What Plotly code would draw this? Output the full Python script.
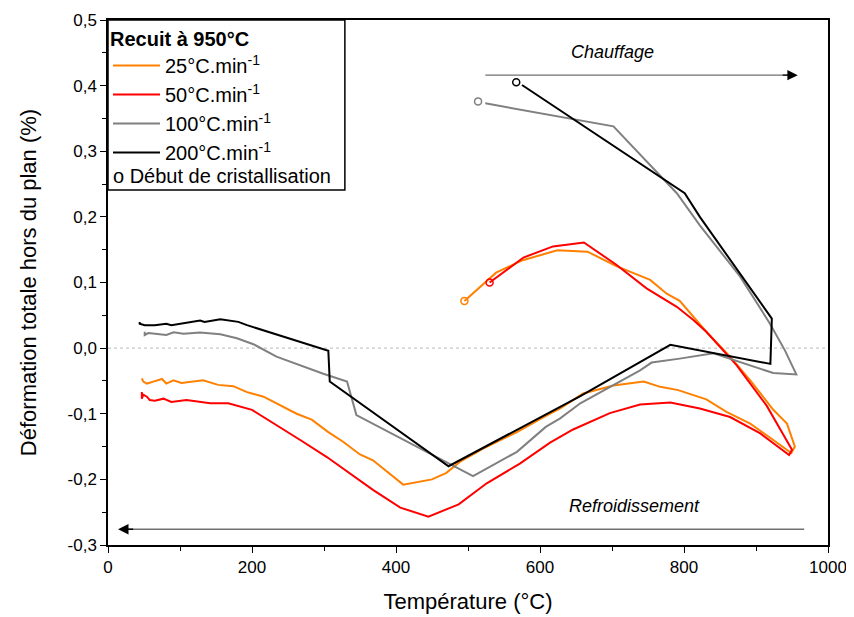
import plotly.graph_objects as go

# ---------------- data ----------------
T_25 = [495, 539, 576, 624, 666, 706, 753, 776, 794, 831, 864, 892, 924, 943, 954,
        949, 924, 892, 859, 831, 792, 767, 744, 702, 660, 628, 605, 568, 521, 489,
        470, 450, 410, 368, 350, 327, 306, 283, 262, 239, 216, 193, 174, 153, 132,
        102, 91, 81, 75, 63, 54, 49, 47]
D_25 = [0.072, 0.115, 0.134, 0.149, 0.147, 0.125, 0.104, 0.083, 0.072, 0.025, -0.013,
        -0.049, -0.094, -0.115, -0.150,
        -0.160, -0.140, -0.115, -0.097, -0.078, -0.064, -0.059, -0.051, -0.057, -0.069,
        -0.092, -0.105, -0.128, -0.153, -0.173, -0.190, -0.200, -0.208, -0.171, -0.162,
        -0.143, -0.128, -0.109, -0.100, -0.087, -0.074, -0.067, -0.058, -0.056, -0.049,
        -0.053, -0.049, -0.054, -0.047, -0.051, -0.054, -0.051, -0.046]

T_50 = [530, 577, 618, 661, 706, 748, 790, 813, 831, 873, 915, 950,
        946, 906, 864, 822, 781, 739, 697, 646, 614, 572, 526, 487, 445, 406, 368,
        336, 304, 267, 230, 200, 167, 142, 109, 88, 77, 65, 58, 54, 49, 47, 47]
D_50 = [0.100, 0.138, 0.155, 0.161, 0.127, 0.091, 0.063, 0.043, 0.025, -0.026, -0.088,
        -0.155,
        -0.163, -0.130, -0.105, -0.092, -0.083, -0.086, -0.099, -0.124, -0.144, -0.176,
        -0.206, -0.238, -0.257, -0.243, -0.216, -0.191, -0.166, -0.140, -0.115, -0.094,
        -0.084, -0.084, -0.079, -0.082, -0.077, -0.080, -0.079, -0.074, -0.071, -0.077,
        -0.067]

T_100 = [524, 702, 790, 822, 878, 919, 940, 956,
         924, 892, 841, 794, 755, 739, 656, 628, 608, 568, 507, 345, 332, 299, 267, 234,
         202, 179, 156, 128, 105, 91, 81, 56, 51, 51]
D_100 = [0.373, 0.338, 0.236, 0.187, 0.109, 0.038, -0.003, -0.040,
         -0.038, -0.026, -0.008, -0.016, -0.022, -0.034, -0.084, -0.107, -0.120, -0.158,
         -0.195, -0.102, -0.051, -0.039, -0.026, -0.013, 0.006, 0.015, 0.021, 0.024,
         0.022, 0.024, 0.020, 0.023, 0.020, 0.025]

T_200 = [575, 801, 822, 922, 920, 781, 656, 473, 308, 306, 193, 181, 156, 134, 128,
         102, 88, 81, 65, 51, 44, 44]
D_200 = [0.401, 0.236, 0.200, 0.045, -0.024, 0.005, -0.073, -0.180, -0.051, -0.004,
         0.035, 0.040, 0.044, 0.040, 0.042, 0.038, 0.035, 0.037, 0.035, 0.035, 0.037,
         0.040]

# crystallisation onset (open circles)
onset_T = [495, 530, 514, 567]
onset_D = [0.072, 0.100, 0.376, 0.405]

series_names = ["25°C.min<sup>-1</sup>", "50°C.min<sup>-1</sup>",
                "100°C.min<sup>-1</sup>", "200°C.min<sup>-1</sup>"]
series_colors = ["#FF8000", "#FF0000", "#808080", "#000000"]

x_tickvals = [0, 200, 400, 600, 800, 1000]
y_tickvals = [-0.3, -0.2, -0.1, 0.0, 0.1, 0.2, 0.3, 0.4, 0.5]
y_ticktext = ["-0,3", "-0,2", "-0,1", "0,0", "0,1", "0,2", "0,3", "0,4", "0,5"]

FONT = "Liberation Sans, Arial, sans-serif"

fig = go.Figure()

for T, D, name, col in zip([T_25, T_50, T_100, T_200], [D_25, D_50, D_100, D_200],
                           series_names, series_colors):
    fig.add_trace(go.Scatter(x=T, y=D, mode="lines", name=name,
                             line=dict(color=col, width=2)))

fig.add_trace(go.Scatter(x=onset_T, y=onset_D, mode="markers", showlegend=False,
                         marker=dict(symbol="circle-open", size=7,
                                     color=series_colors,
                                     line=dict(width=1.5, color=series_colors))))

axis_common = dict(showline=True, linecolor="black", linewidth=1.5, mirror=True,
                   ticks="outside", ticklen=6, tickwidth=1.3, tickcolor="black",
                   showgrid=False, zeroline=False, automargin=False,
                   tickfont=dict(family=FONT, size=17, color="black"))

fig.update_xaxes(range=[0, 1000], tickvals=x_tickvals,
                 minor=dict(ticks="outside", ticklen=4, tickwidth=1.2, dtick=100,
                            tick0=0, tickcolor="black", showgrid=False),
                 title=dict(text="Température (°C)", font=dict(family=FONT, size=22,
                                                                color="black"),
                            standoff=17),
                 **axis_common)
fig.update_yaxes(range=[-0.3, 0.5], tickvals=y_tickvals, ticktext=y_ticktext,
                 minor=dict(ticks="outside", ticklen=4, tickwidth=1.2, dtick=0.05,
                            tick0=0, tickcolor="black", showgrid=False),
                 title=dict(text="Déformation totale hors du plan (%)",
                            font=dict(family=FONT, size=22, color="black"),
                            standoff=25),
                 **axis_common)

# zero reference line
fig.add_shape(type="line", xref="paper", yref="y", x0=0, x1=1, y0=0, y1=0,
              line=dict(color="#C8C8C8", width=1.2, dash="dot"), layer="below")

# legend frame
fig.add_shape(type="rect", xref="paper", yref="paper", x0=0, x1=0.329, y0=0.676, y1=1,
              line=dict(color="black", width=1.5))

# Chauffage arrow
fig.add_annotation(x=952, y=0.416, ax=522, ay=0.416, xref="x", yref="y",
                   axref="x", ayref="y", text="", showarrow=True, arrowhead=0,
                   arrowwidth=1.3, arrowcolor="#707070")
fig.add_annotation(x=958, y=0.416, ax=935, ay=0.416, xref="x", yref="y",
                   axref="x", ayref="y", text="", showarrow=True, arrowhead=2,
                   arrowsize=1.6, arrowwidth=1.3, arrowcolor="black")
fig.add_annotation(x=700, y=0.451, xref="x", yref="y", text="<i>Chauffage</i>",
                   showarrow=False, font=dict(family=FONT, size=18, color="black"))

# Refroidissement arrow
fig.add_annotation(x=20, y=-0.276, ax=969, ay=-0.276, xref="x", yref="y",
                   axref="x", ayref="y", text="", showarrow=True, arrowhead=0,
                   arrowwidth=1.3, arrowcolor="#707070")
fig.add_annotation(x=14, y=-0.276, ax=37, ay=-0.276, xref="x", yref="y",
                   axref="x", ayref="y", text="", showarrow=True, arrowhead=2,
                   arrowsize=1.6, arrowwidth=1.3, arrowcolor="black")
fig.add_annotation(x=731, y=-0.241, xref="x", yref="y", text="<i>Refroidissement</i>",
                   showarrow=False, font=dict(family=FONT, size=18, color="black"))

# last legend line
fig.add_annotation(x=0.004, y=0.703, xref="paper", yref="paper", xanchor="left",
                   yanchor="middle", text="o Début de cristallisation", showarrow=False,
                   font=dict(family=FONT, size=20, color="black"))

# the page adds an 8px body margin, so the figure is 8px smaller and margins shifted
fig.update_layout(
    width=846, height=609,
    margin=dict(l=100, r=26, t=12, b=72),
    paper_bgcolor="white", plot_bgcolor="white",
    font=dict(family=FONT, color="black"),
    legend=dict(x=0.0, y=1.0, xanchor="left", yanchor="top",
                bgcolor="rgba(0,0,0,0)", borderwidth=0,
                title=dict(text="<b>Recuit à 950°C</b>",
                           font=dict(family=FONT, size=20, color="black")),
                font=dict(family=FONT, size=20, color="black"),
                itemwidth=47, tracegroupgap=0),
    showlegend=True,
)

fig.write_html("out.html")
